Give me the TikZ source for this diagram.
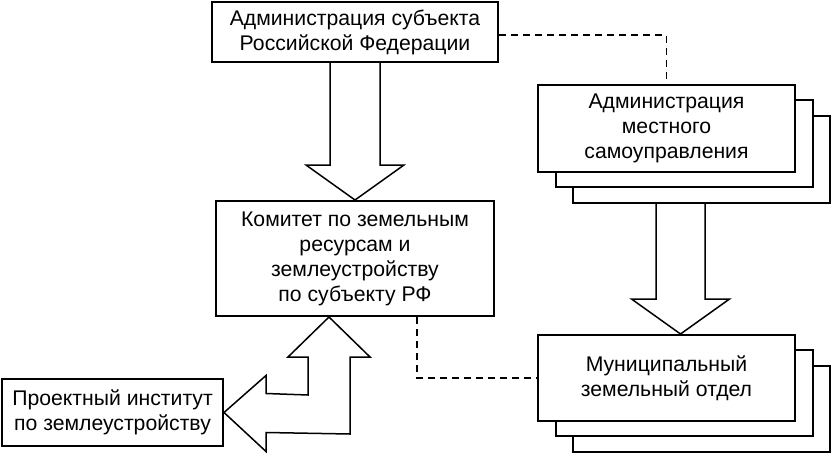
\documentclass[tikz,border=0pt]{standalone}
\usepackage{fontspec}
\setmainfont{Liberation Sans}
\usetikzlibrary{calc}
\tikzset{
  box/.style={draw, line width=2pt, fill=white, align=center, inner sep=0pt,
    font=\fontsize{21.2}{25}\selectfont},
  layer/.style={draw, line width=2pt, fill=white, inner sep=0pt},
  blk/.style={draw, line width=1.5pt, fill=white, line join=miter},
  dsh/.style={draw, line width=1.3pt, dash pattern=on 7pt off 5pt},
}
\begin{document}
\begin{tikzpicture}[x=1pt,y=-1pt]
\useasboundingbox (0,0) rectangle (832,455);
% top box
\node[box, minimum width=286pt, minimum height=60pt] (adm) at (355,32)
  {Администрация субъекта\\Российской Федерации};
% committee
\node[box, minimum width=278pt, minimum height=115pt] (kom) at (355,258.5)
  {Комитет по земельным\\ресурсам и\\землеустройству\\по субъекту РФ};
% local administration (stacked)
\node[layer, minimum width=257pt, minimum height=87pt] (loc2) at (701.5,159.5) {};
\node[layer, minimum width=257pt, minimum height=87pt] (loc1) at (684.5,143.5) {};
\node[box, minimum width=257pt, minimum height=87pt] (loc) at (666.5,128.5)
  {Администрация\\местного\\самоуправления};
% municipal dept (stacked)
\node[layer, minimum width=257pt, minimum height=86pt] (mun2) at (701.5,409) {};
\node[layer, minimum width=257pt, minimum height=86pt] (mun1) at (684.5,393) {};
\node[box, minimum width=257pt, minimum height=86pt] (mun) at (666.5,378)
  {Муниципальный\\земельный отдел};
% project institute
\node[box, minimum width=221pt, minimum height=67pt] (proj) at (112.5,412.5)
  {Проектный институт\\по землеустройству};

% block arrow adm -> kom
\draw[blk] ($(adm.south)+(-25,0)$) -- ($(kom.north)+(-25,-35)$) -- ($(kom.north)+(-49,-35)$)
  -- (kom.north) -- ($(kom.north)+(49,-35)$) -- ($(kom.north)+(25,-35)$)
  -- ($(adm.south)+(25,0)$);
% block arrow loc -> mun
\coordinate (a2top) at ($(loc2.south)+(-21,0)$);
\coordinate (a2tip) at (a2top |- mun.north);
\draw[blk] ($(a2top)+(-24.5,0)$) -- ($(a2tip)+(-24.5,-35)$) -- ($(a2tip)+(-49,-35)$)
  -- (a2tip) -- ($(a2tip)+(49,-35)$) -- ($(a2tip)+(24.5,-35)$)
  -- ($(a2top)+(24.5,0)$);
% bent double block arrow kom <-> proj
\coordinate (t1) at ($(kom.south)+(-26,0)$);
\coordinate (t2) at (proj.east);
\draw[blk] (t1) -- ($(t1)+(-41,40)$) -- ($(t1)+(-21,40)$) -- ($(t1)+(-21,78)$)
  -- ($(t2)+(42,-19)$) -- ($(t2)+(42,-37)$) -- (t2) -- ($(t2)+(42,39)$)
  -- ($(t2)+(42,20)$) -- ($(t1)+(21,117)$) -- ($(t1)+(21,40)$) -- ($(t1)+(41,40)$) -- cycle;
% dashed links
\draw[dsh] ($(adm.east)+(0,3)$) -| (loc.north);
\draw[dsh] ($(kom.south)+(62,0)$) |- (mun.west);
\end{tikzpicture}
\end{document}
